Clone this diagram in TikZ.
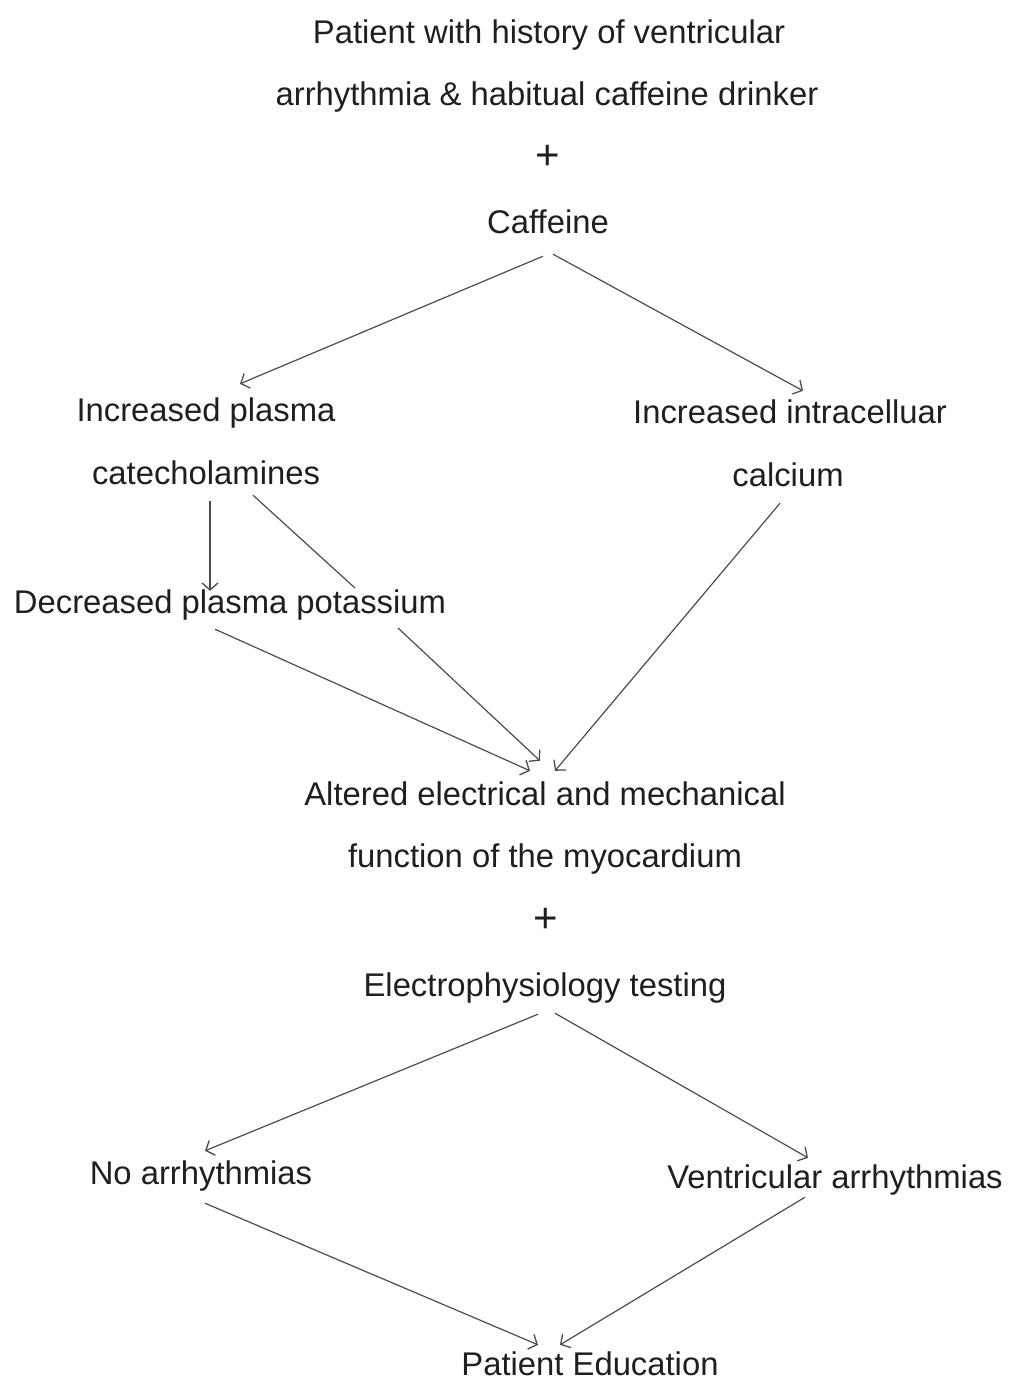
\documentclass[tikz,border=0pt]{standalone}
\usepackage{fontspec}
\setmainfont{Liberation Sans}
\usetikzlibrary{arrows.meta}
\begin{document}
\begin{tikzpicture}[x=1pt,y=1pt,
  lbl/.style={anchor=base,inner sep=0pt,text height=24pt,text depth=7pt,
    font=\fontsize{32.8pt}{40pt}\selectfont,text=black!88},
  plus/.style={lbl,font=\fontsize{42pt}{48pt}\selectfont},
  conn/.style={draw=black!70,line width=1.2pt},
  arr/.style={conn,-{Straight Barb[length=7pt,width=16pt,line width=1.3pt]}}]
\useasboundingbox (0,0) rectangle (1012,-1382);
\node[lbl] (t1) at (549,-43) {Patient with history of ventricular};
\node[lbl] (t2) at (547,-105) {arrhythmia \& habitual caffeine drinker};
\node[plus] (p1) at (548,-169) {+};
\node[lbl] (caf) at (548,-233) {Caffeine};
\node[lbl] (incp) at (206,-421) {Increased plasma};
\node[lbl] (cat) at (206,-484) {catecholamines};
\node[lbl] (inic) at (790,-423) {Increased intracelluar};
\node[lbl] (calc) at (788,-486) {calcium};
\node[lbl] (dec) at (230,-613) {Decreased plasma potassium};
\node[lbl] (alt) at (545,-805) {Altered electrical and mechanical};
\node[lbl] (fun) at (545,-867) {function of the myocardium};
\node[plus] (p2) at (546,-932) {+};
\node[lbl] (elec) at (545,-996) {Electrophysiology testing};
\node[lbl] (noar) at (201,-1184) {No arrhythmias};
\node[lbl] (vent) at (835,-1188) {Ventricular arrhythmias};
\node[lbl] (pe) at (590,-1375) {Patient Education};
\coordinate (k1) at (355,-588);
\coordinate (k2) at (398,-628);
\draw[arr] ([shift={(-5,-16)}]caf.south) -- ([shift={(34,13)}]incp.north);
\draw[arr] ([shift={(5,-14)}]caf.south) -- ([shift={(13,8)}]inic.north);
\draw[arr] ([shift={(4,-10)}]cat.south) -- ([shift={(-20,-2)}]dec.north);
\draw[conn] ([shift={(47,-4)}]cat.south) -- (k1);
\draw[arr] (k2) -- ([shift={(-5,20)}]alt.north);
\draw[arr] ([shift={(-15,-9)}]dec.south) -- ([shift={(-15,10)}]alt.north);
\draw[arr] ([shift={(-8,-10)}]calc.south) -- ([shift={(10,10)}]alt.north);
\draw[arr] ([shift={(-7,-11)}]elec.south) -- ([shift={(4,9)}]noar.north);
\draw[arr] ([shift={(10,-10)}]elec.south) -- ([shift={(-27,6)}]vent.north);
\draw[arr] ([shift={(4,-12)}]noar.south) -- ([shift={(-52,6)}]pe.north);
\draw[arr] ([shift={(-30,-2)}]vent.south) -- ([shift={(-30,6)}]pe.north);
\end{tikzpicture}
\end{document}
